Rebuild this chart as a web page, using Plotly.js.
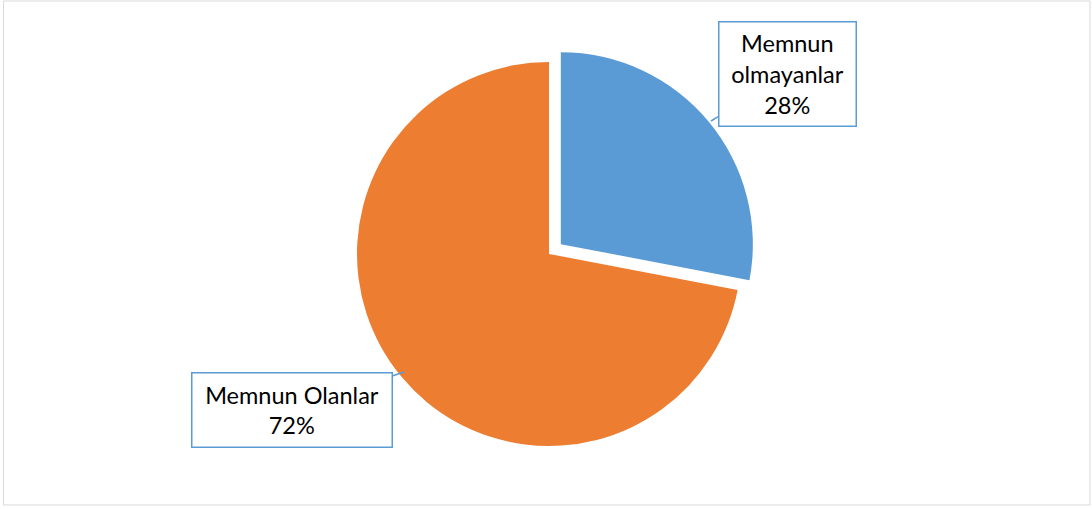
<!DOCTYPE html>
<html>
<head>
<meta charset="utf-8">
<script src="https://cdn.plot.ly/plotly-3.0.1.min.js"></script>
<style>html,body{margin:0;padding:0;background:#fff;}#chart{width:1092px;height:509px;}</style>
</head>
<body>
<div id="chart"></div>
<script>
const labels = ['Memnun olmayanlar', 'Memnun Olanlar'];
const values = [28, 72];
const colors = ['#5B9BD5', '#ED7D31'];
const pulls = [0.08, 0];
const calloutText = ['Memnun<br>olmayanlar<br>28%', 'Memnun Olanlar<br>72%'];

const W = 1092, H = 509;
const px = x => x / W;
const py = y => 1 - y / H;

const trace = {
  type: 'pie',
  labels: labels,
  values: values,
  sort: false,
  direction: 'clockwise',
  rotation: 0,
  pull: pulls,
  marker: {colors: colors, line: {width: 0}},
  textinfo: 'none',
  hoverinfo: 'label+percent',
  showlegend: false,
  domain: {x: [0.3128, 0.6927], y: [0.0937, 0.9085]}
};

const font = {family: 'Lato, "Open Sans", sans-serif', size: 23.5, color: '#000'};
const layout = {
  width: W, height: H,
  margin: {l: 0, r: 0, t: 0, b: 0},
  paper_bgcolor: '#fff',
  showlegend: false,
  shapes: [{
    type: 'rect', xref: 'paper', yref: 'paper',
    x0: px(3.5), x1: px(1090), y0: py(505), y1: py(1),
    line: {color: '#D9D9D9', width: 1}
  }],
  annotations: [
    {
      xref: 'paper', yref: 'paper', x: px(711), y: py(121),
      text: calloutText[0], showarrow: true, arrowhead: 0, arrowwidth: 1.5,
      arrowcolor: '#5B9BD5', ax: 76, ay: -47,
      bgcolor: '#fff', bordercolor: '#5B9BD5', borderwidth: 1.5, borderpad: 1,
      width: 134, height: 101, align: 'center', font: font
    },
    {
      xref: 'paper', yref: 'paper', x: px(404), y: py(372),
      text: calloutText[1], showarrow: true, arrowhead: 0, arrowwidth: 1.5,
      arrowcolor: '#5B9BD5', ax: -112, ay: 38,
      bgcolor: '#fff', bordercolor: '#5B9BD5', borderwidth: 1.5, borderpad: 1,
      width: 197, height: 71, align: 'center', font: font
    }
  ]
};

Plotly.newPlot('chart', [trace], layout, {displayModeBar: false, staticPlot: true});
</script>
</body>
</html>
